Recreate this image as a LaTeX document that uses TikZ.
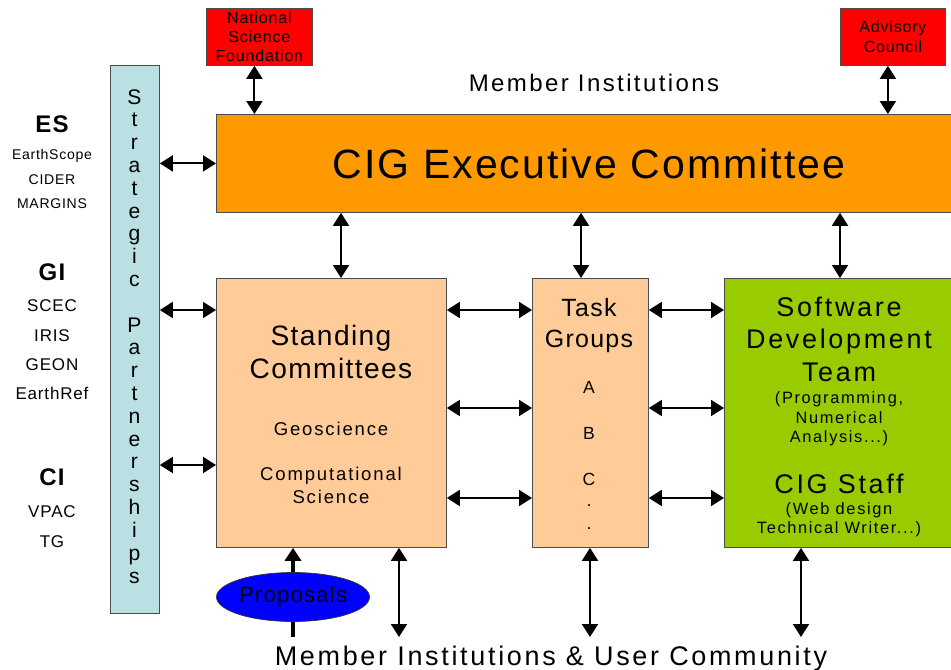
\documentclass[tikz,border=0pt]{standalone}
\usepackage{fontspec}
\setmainfont{Liberation Sans}[LetterSpace=5]
\newfontfamily\wide{Liberation Sans}[LetterSpace=10]
\usetikzlibrary{arrows.meta,shapes.geometric}

\definecolor{cigred}{RGB}{255,0,0}
\definecolor{cigorange}{RGB}{255,153,0}
\definecolor{cigpeach}{RGB}{255,204,153}
\definecolor{ciggreen}{RGB}{153,204,0}
\definecolor{cigblue}{RGB}{186,224,227}
\definecolor{propblue}{RGB}{0,0,255}
\DeclareRobustCommand\etc{...}

\begin{document}
\begin{tikzpicture}[x=0.03cm,y=-0.03cm,
	tri/.tip={Triangle[length=0.39cm,width=0.48cm]},
	box/.style={draw=black!70, line width=0.7pt, inner sep=0pt, anchor=north west},
	link/.style={tri-tri, line width=1.6pt},
	txt/.style={anchor=base, font=\fontsize{#1}{#1}\selectfont},
	wtxt/.style={anchor=base, font=\wide\fontsize{#1}{#1}\selectfont}]
	\useasboundingbox (0,0) rectangle (951,669);
	% rows and columns the arrows run along
	\coordinate (r1) at (0,310); \coordinate (r2) at (0,408); \coordinate (r3) at (0,498); \coordinate (r4) at (0,465);
	\coordinate (c1) at (341,0); \coordinate (c2) at (581,0); \coordinate (c3) at (840,0);
	\coordinate (b1) at (399,0); \coordinate (b2) at (590,0); \coordinate (b3) at (801,0);
	\coordinate (bot) at (0,637);

	% top row
	\node[box, fill=cigred, minimum width=3.18cm, minimum height=1.71cm, align=center, font=\fontsize{13.7}{16.2}\selectfont] (nsf) at (206,8) {National\\Science\\Foundation};
	\node[box, fill=cigred, minimum width=3.15cm, minimum height=1.71cm, align=center, font=\fontsize{13.7}{17}\selectfont] (adv) at (840,8) {Advisory\\Council};
	\node[wtxt=20.5] (mi) at (594,91) {Member Institutions};
	\node[box, fill=cigorange, minimum width=22.14cm, minimum height=2.94cm] (ex) at (216,114) {};
	\node[txt=35] (exT) at (589,178) {CIG Executive Committee};

	% partnerships bar and the groups beside it
	\node[box, fill=cigblue, minimum width=1.47cm, minimum height=16.44cm] (sp) at (110,65) {};
	\foreach \c [count=\i from 0] in {S,t,r,a,t,e,g,i,c,{},P,a,r,t,n,e,r,s,h,i,p,s}
		\node[txt=18] (sp\i) at (134.5,{104+22.81*\i}) {\c};
	\foreach \y/\t in {132/ES, 280/GI, 485/CI}
		\node[txt=20.5] (g\t) at (52,\y) {\bfseries\t};
	\foreach \y/\t in {159/EarthScope, 184/CIDER, 208/MARGINS}
		\node[txt=12] (p\t) at (52,\y) {\t};
	\foreach \y/\t in {311/SCEC, 341/IRIS, 370/GEON, 399/EarthRef, 517/VPAC, 547/TG}
		\node[txt=14.5] (p\t) at (52,\y) {\t};

	% middle row
	\node[box, fill=cigpeach, minimum width=6.9cm, minimum height=8.07cm] (std) at (216,278) {};
	\node[box, fill=cigpeach, minimum width=3.48cm, minimum height=8.07cm] (tg) at (532,278) {};
	\node[box, fill=ciggreen, minimum width=6.93cm, minimum height=8.07cm] (sdt) at (724,278) {};

	\foreach \y/\t [count=\i] in {345/Standing, 378/Committees}
		\node[txt=24] (stdT\i) at (331,\y) {\t};
	\foreach \y/\t [count=\i] in {435/Geoscience, 480/Computational, 503/Science}
		\node[wtxt=15.8] (stdS\i) at (331,\y) {\t};
	\foreach \y/\t [count=\i] in {316/Task, 347/Groups}
		\node[txt=21.3] (tgT\i) at (589,\y) {\t};
	\foreach \y/\t [count=\i] in {393/A, 439/B, 485/C, 506/{.}, 529/{.}}
		\node[txt=15] (tgS\i) at (589,\y) {\t};
	\foreach \y/\t [count=\i] in {316/Software, 348/Development, 381/Team, 493/CIG Staff}
		\node[wtxt=23] (sdtT\i) at (839,\y) {\t};
	\foreach \y/\t [count=\i] in {403/{(Programming,}, 423/Numerical, 442/{Analysis\etc)}, 514/{(Web design}, 533/{Technical Writer\etc)}}
		\node[wtxt=14] (sdtS\i) at (839,\y) {\t};

	% bottom
	\node[ellipse, draw=black!80, line width=0.6pt, fill=propblue, inner sep=0pt, minimum width=4.59cm, minimum height=1.47cm, font=\fontsize{19}{19}\selectfont] (prop) at (293,597) {Proposals};
	\node[wtxt=23] (mic) at (551,665) {Member Institutions \& User Community};

	% links
	\draw[link] ([xshift=-0.15cm]nsf.south) -- ([xshift=-0.15cm]nsf.south |- ex.north);
	\draw[link] ([xshift=-0.15cm]adv.south) -- ([xshift=-0.15cm]adv.south |- ex.north);
	\draw[link] (sp.east |- ex.west) -- (ex.west);
	\draw[link] (sp.east |- r1) -- (std.west |- r1);
	\draw[link] (sp.east |- r4) -- (std.west |- r4);
	\foreach \r in {r1,r2,r3} {
		\draw[link] (std.east |- \r) -- (tg.west |- \r);
		\draw[link] (tg.east |- \r) -- (sdt.west |- \r);
	}
	\draw[link] (ex.south -| c1) -- (std.north -| c1);
	\draw[link] (ex.south -| c2) -- (tg.north -| c2);
	\draw[link] (ex.south -| c3) -- (sdt.north -| c3);
	\draw[link] (std.south -| b1) -- (b1 |- bot);
	\draw[link] (tg.south -| b2) -- (b2 |- bot);
	\draw[link] (sdt.south -| b3) -- (b3 |- bot);
	\draw[-tri, line width=3.4pt] (prop.north) -- (prop.north |- std.south);
	\draw[line width=3.4pt] (prop.south) -- (prop.south |- bot);
\end{tikzpicture}
\end{document}
